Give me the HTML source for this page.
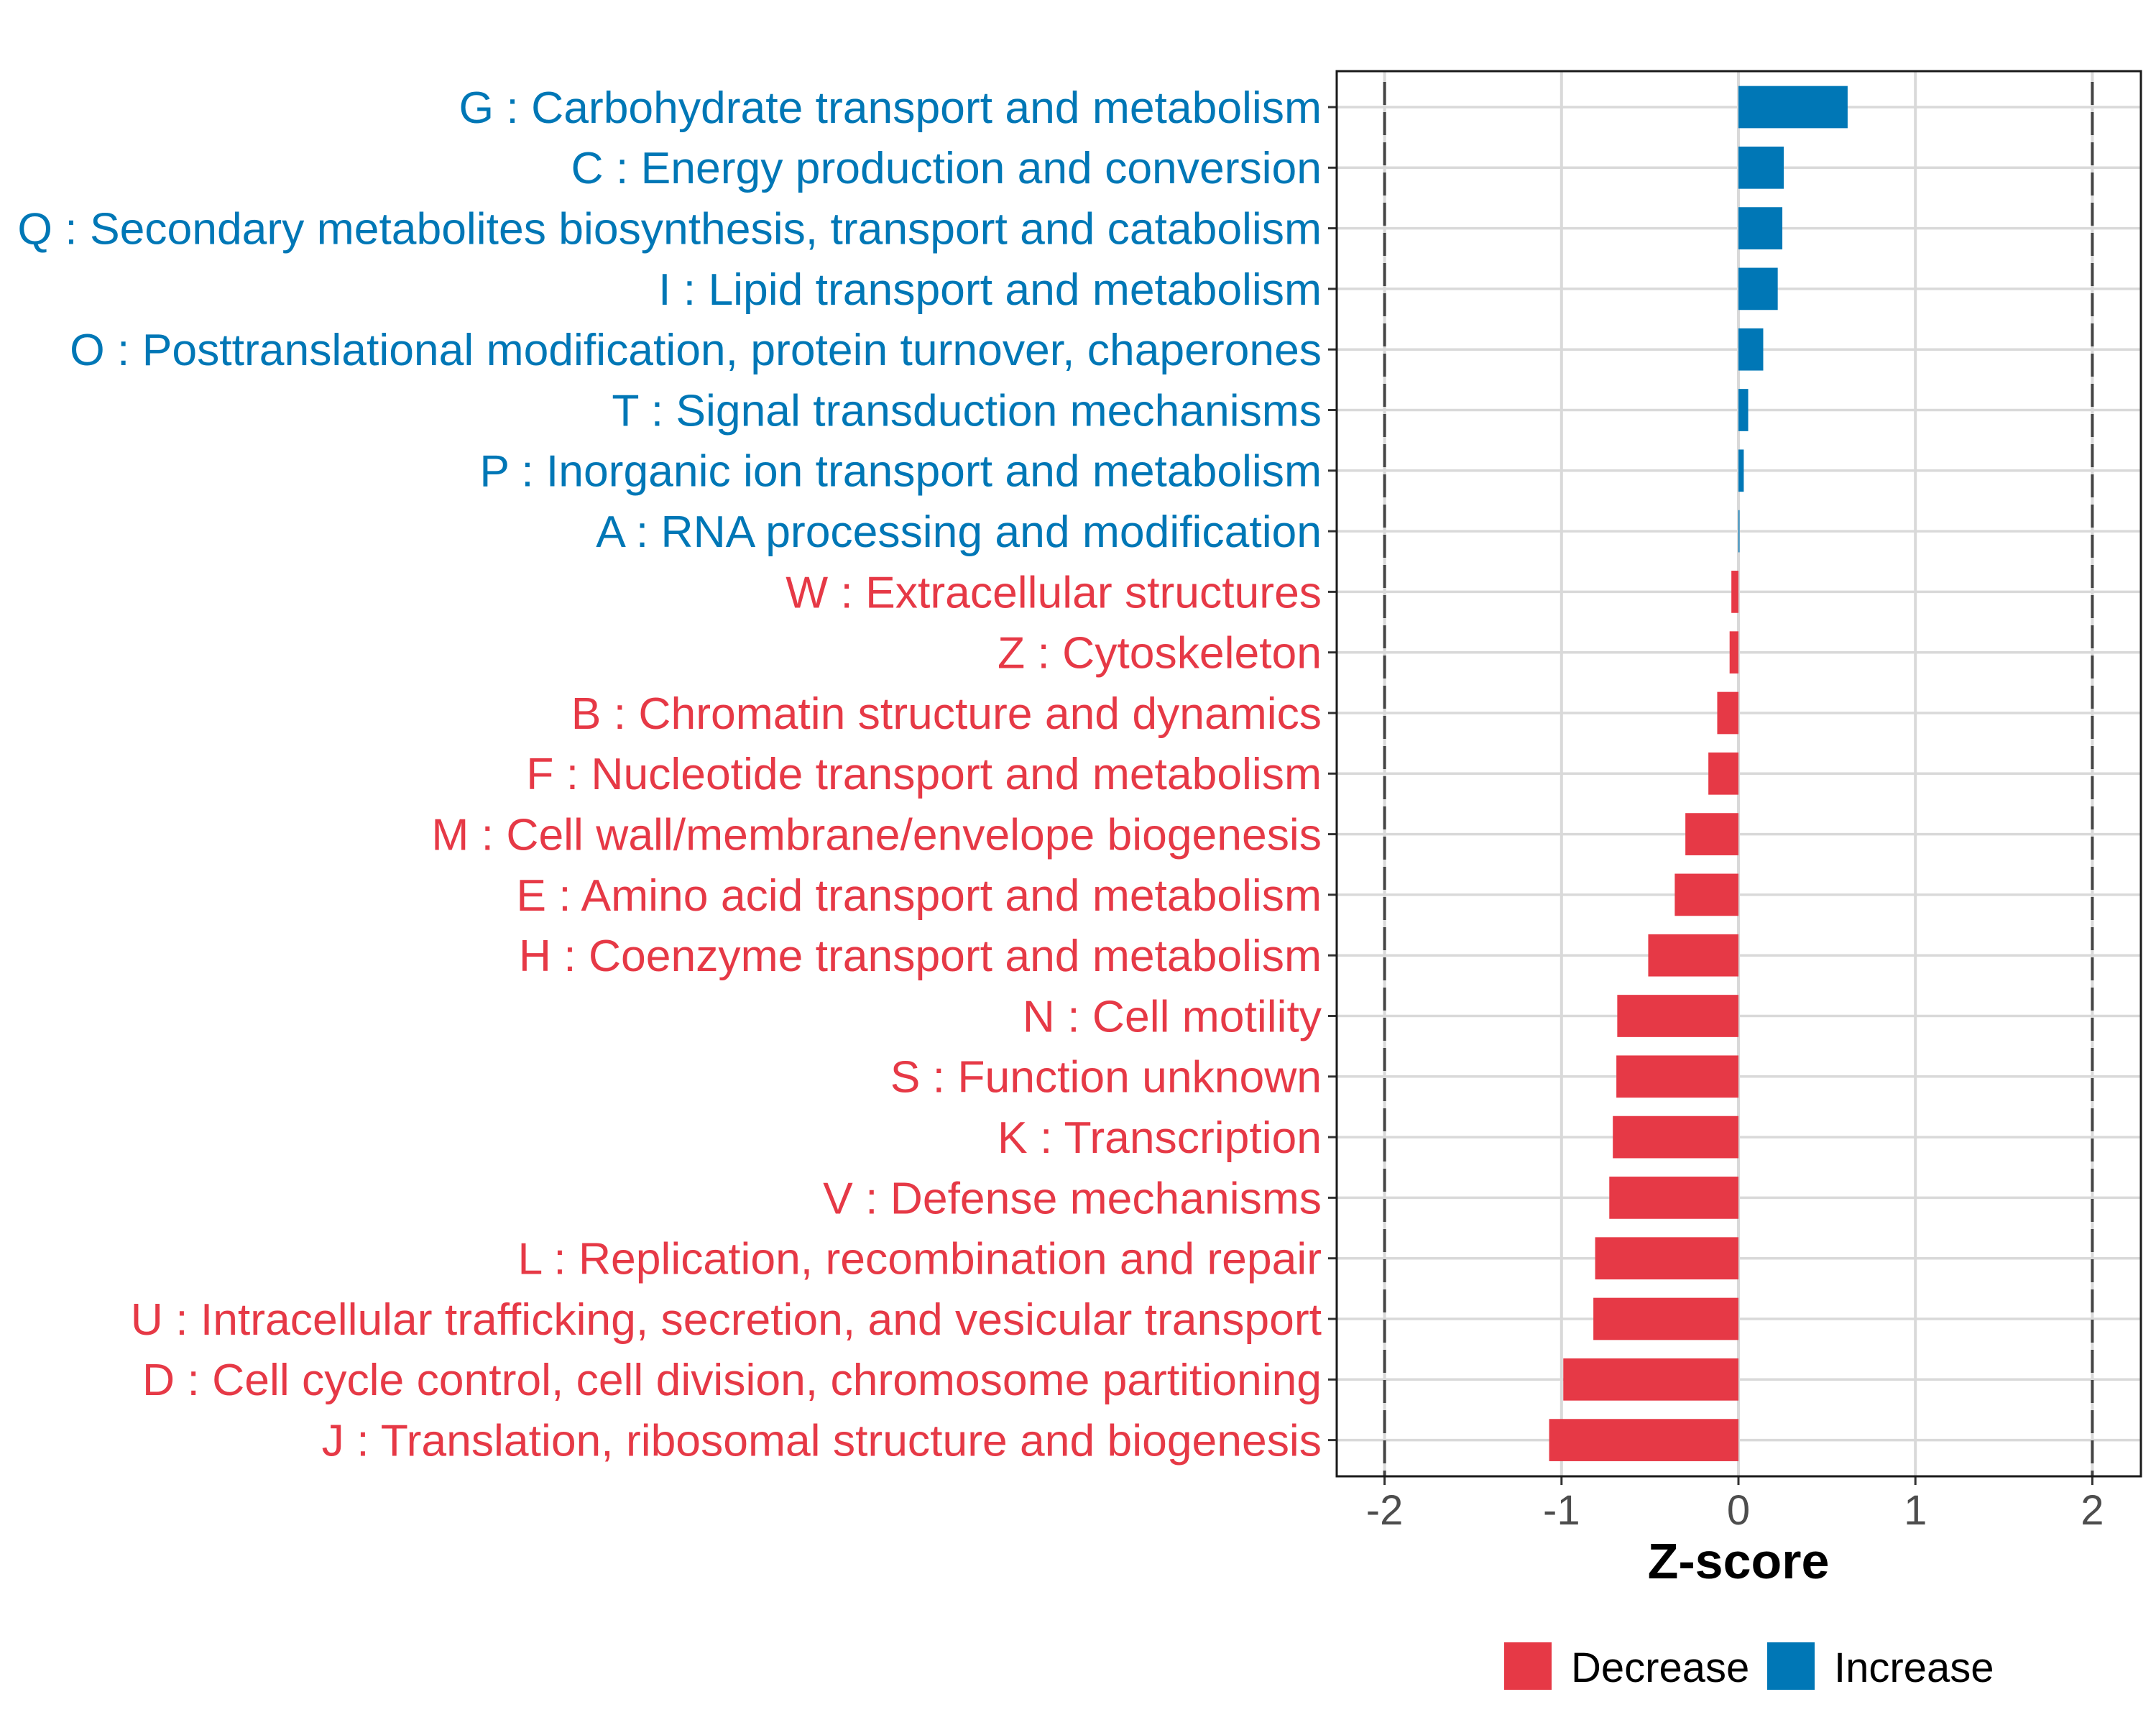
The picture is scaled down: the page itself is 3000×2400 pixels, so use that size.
<!DOCTYPE html>
<html><head><meta charset="utf-8"><style>
html,body{margin:0;padding:0;background:#fff}
svg{display:block}
text{font-family:"Liberation Sans",Arial,sans-serif}
</style></head><body>
<svg id="chart" width="3000" height="2400" viewBox="0 0 3000 2400" xmlns="http://www.w3.org/2000/svg">
<rect x="0" y="0" width="3000" height="2400" fill="#fff"/>
<g id="grid"></g>
<g id="bars"></g>
<g id="labels"></g>
<g id="xaxis"></g>
<rect x="1860" y="99" width="1119" height="1955" fill="none" stroke="#1a1a1a" stroke-width="3"/>
<text x="2419" y="2196" font-size="70" font-weight="bold" text-anchor="middle" fill="#000">Z-score</text>
<g>
<rect x="2093" y="2285" width="66" height="66" fill="#E63946"/>
<text x="2186" y="2340" font-size="58" fill="#000">Decrease</text>
<rect x="2459" y="2285" width="66" height="66" fill="#0077B6"/>
<text x="2552" y="2340" font-size="58" fill="#000">Increase</text>
</g>
</svg>
<script>
const categories = [
"G : Carbohydrate transport and metabolism",
"C : Energy production and conversion",
"Q : Secondary metabolites biosynthesis, transport and catabolism",
"I : Lipid transport and metabolism",
"O : Posttranslational modification, protein turnover, chaperones",
"T : Signal transduction mechanisms",
"P : Inorganic ion transport and metabolism",
"A : RNA processing and modification",
"W : Extracellular structures",
"Z : Cytoskeleton",
"B : Chromatin structure and dynamics",
"F : Nucleotide transport and metabolism",
"M : Cell wall/membrane/envelope biogenesis",
"E : Amino acid transport and metabolism",
"H : Coenzyme transport and metabolism",
"N : Cell motility",
"S : Function unknown",
"K : Transcription",
"V : Defense mechanisms",
"L : Replication, recombination and repair",
"U : Intracellular trafficking, secretion, and vesicular transport",
"D : Cell cycle control, cell division, chromosome partitioning",
"J : Translation, ribosomal structure and biogenesis"
];
const zscores = [0.617, 0.256, 0.248, 0.222, 0.14, 0.055, 0.03, 0.006, -0.04, -0.05, -0.12, -0.17, -0.30, -0.36, -0.51, -0.685, -0.69, -0.71, -0.73, -0.81, -0.82, -0.99, -1.07];
const xTicks = [-2, -1, 0, 1, 2];
const xTickLabels = ["-2", "-1", "0", "1", "2"];
const thresholds = [-2, 2];

const NS = "http://www.w3.org/2000/svg";
const X0 = 2419, UNIT = 246.2;
const xScale = v => X0 + v * UNIT;
const Y0 = 149, STEP = 84.3;
const yScale = i => Y0 + i * STEP;
const BAR_H = 58.7;
const PL = 1860, PR = 2979, PT = 99, PB = 2054;
const BLUE = "#0077B6", RED = "#E63946";
function mk(tag, attrs, parent){const e=document.createElementNS(NS,tag);for(const k in attrs)e.setAttribute(k,attrs[k]);parent.appendChild(e);return e;}
const grid=document.getElementById('grid'), bars=document.getElementById('bars'), labels=document.getElementById('labels'), xaxis=document.getElementById('xaxis');

xTicks.forEach((t,i)=>{
  const x=xScale(t);
  let g=mk('line',{x1:x,x2:x,y1:PT,y2:PB,stroke:'#d9d9d9','stroke-width':4},grid);
  
  
  let tk=mk('line',{x1:x,x2:x,y1:PB,y2:PB+12,stroke:'#333','stroke-width':3},xaxis);
  
  
  let tl=mk('text',{x:x,y:2121,'font-size':58,'text-anchor':'middle',fill:'#4d4d4d'},xaxis);
  tl.textContent=xTickLabels[i];
  
  
});
categories.forEach((c,i)=>{
  const y=yScale(i);
  let g=mk('line',{x1:PL,x2:PR,y1:y,y2:y,stroke:'#d9d9d9','stroke-width':3.5},grid);
  
  
});
thresholds.forEach(t=>{
  const x=xScale(t);
  let d=mk('line',{x1:x,x2:x,y1:PT+15,y2:PB,stroke:'#444','stroke-width':4,'stroke-dasharray':'32 10'},grid);
  
  
});
let lbls=[];
categories.forEach((c,i)=>{
  const v=zscores[i], y=yScale(i);
  const col=v>=0?BLUE:RED;
  const x1=Math.min(xScale(0),xScale(v)), w=Math.abs(xScale(v)-xScale(0));
  let b=mk('rect',{x:x1,y:y-BAR_H/2,width:Math.max(w,1),height:BAR_H,fill:col},bars);
  
  
  let tk=mk('line',{x1:PL-12,x2:PL,y1:y,y2:y,stroke:'#333','stroke-width':3},labels);
  
  
  let t=mk('text',{x:1839,y:y+21,'font-size':60,'text-anchor':'end',fill:col},labels);
  t.textContent=c;
  
  
  lbls.push(t);
});
try{
  const w=lbls[2].getComputedTextLength();
  if(w>0){const fs=60*1815/w;lbls.forEach(t=>{t.setAttribute('font-size',fs.toFixed(2));t.setAttribute('y',(parseFloat(t.getAttribute('y'))-21+fs*0.35).toFixed(1));});}
}catch(e){}
</script>
</body></html>
